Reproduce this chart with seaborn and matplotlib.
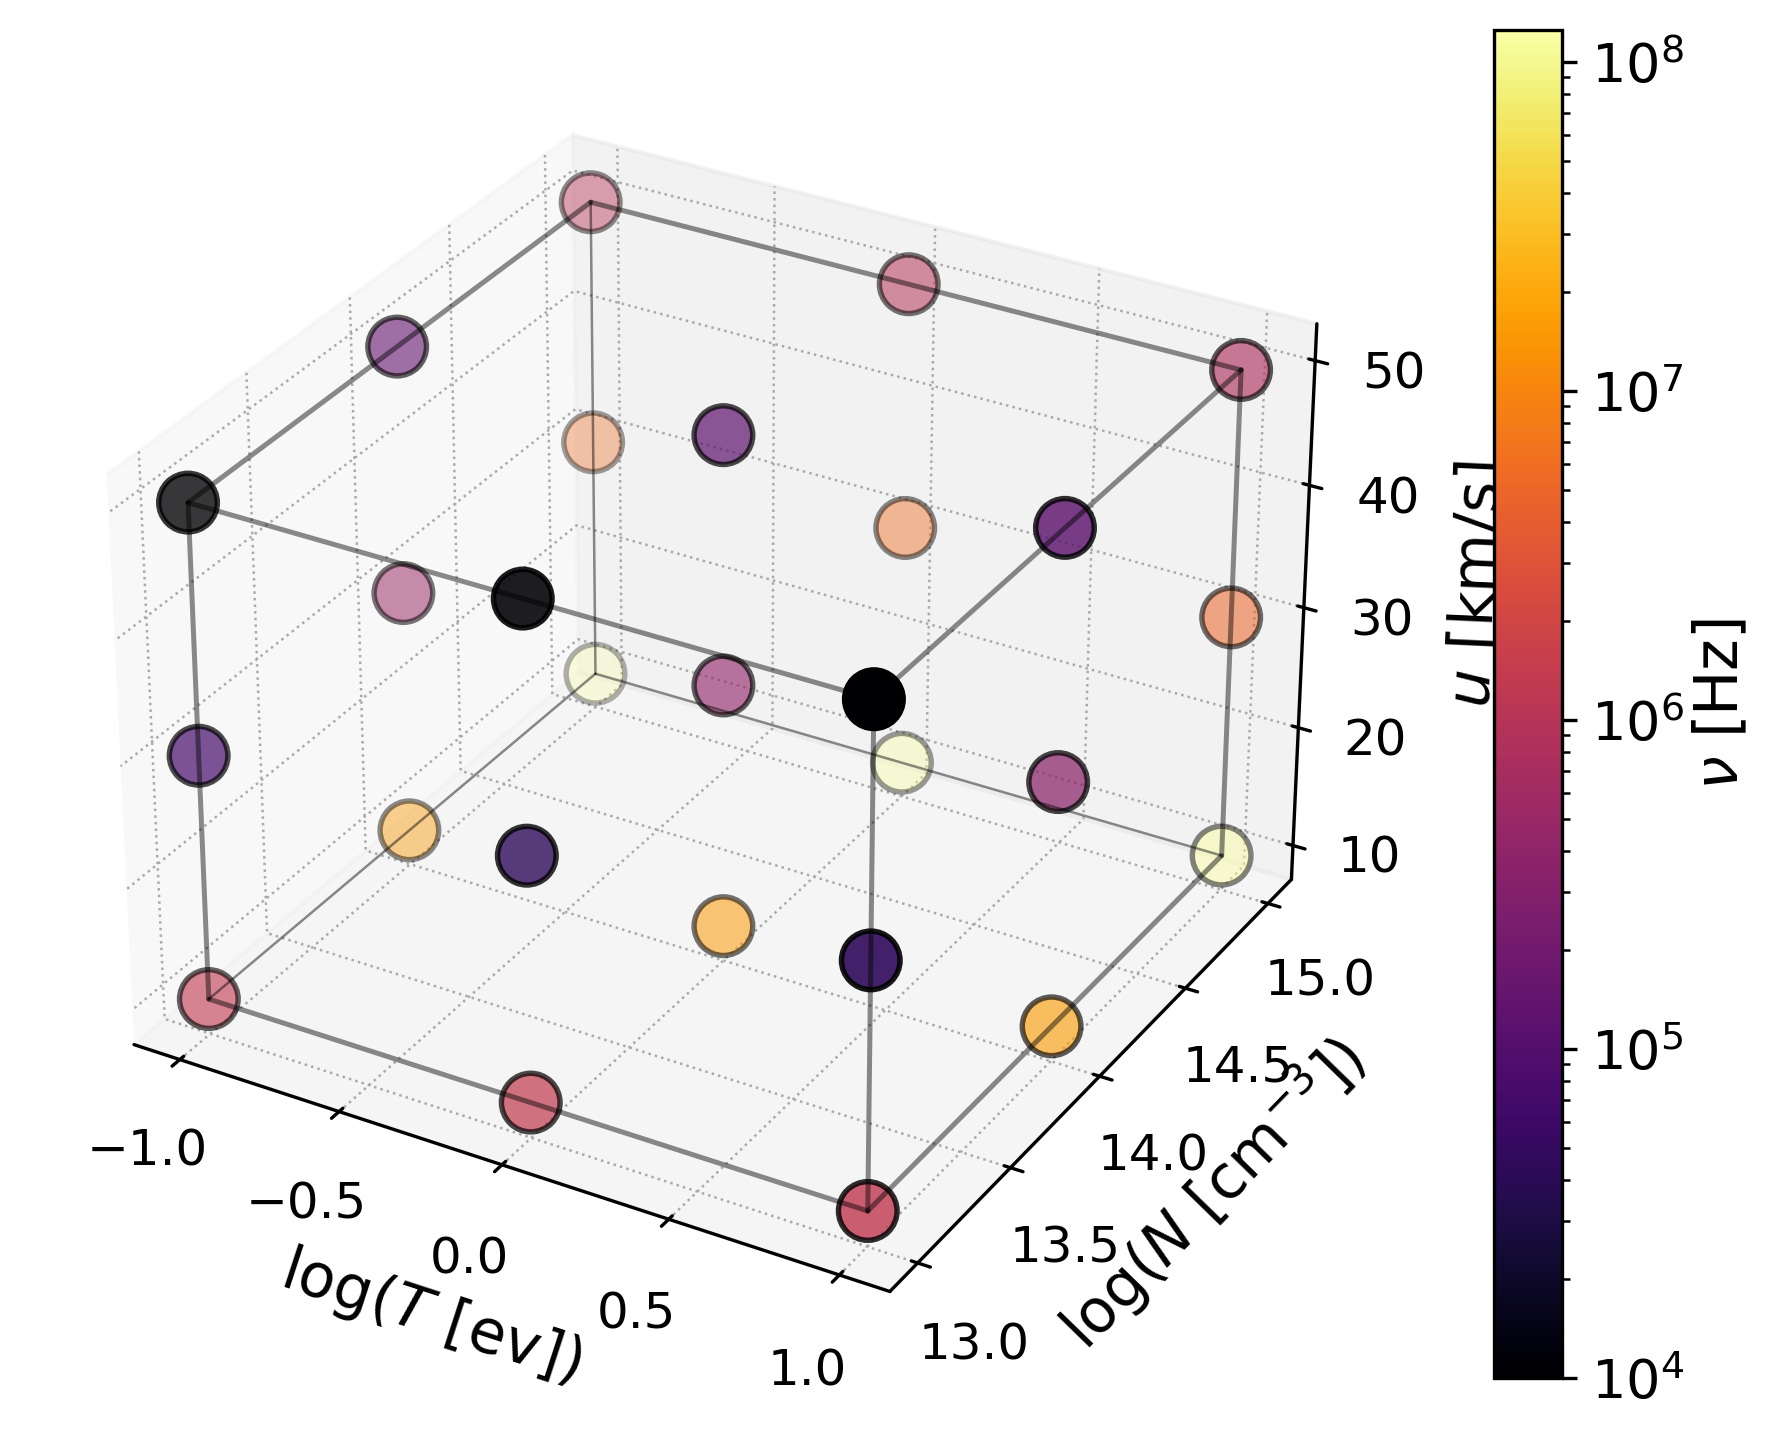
import numpy as np
import pandas as pd
import seaborn as sns
import matplotlib.pyplot as plt
from matplotlib.colors import LogNorm

log_T = [-1.0, 0.0, 1.0]
log_N = [13.0, 14.0, 15.0]
u_kms = [10, 30, 50]

# nu[T index][N index][u index]
nu_T_low = [[1.3e6, 7.0e4, 1.0e4], [1.5e7, 5.0e5, 1.5e5], [1.2e8, 6.0e6, 1.0e6]]
nu_T_mid = [[1.3e6, 4.5e4, 1.1e4], [1.5e7, 4.0e5, 1.3e5], [1.2e8, 6.0e6, 1.0e6]]
nu_T_high = [[1.3e6, 4.5e4, 1.0e4], [1.6e7, 3.5e5, 1.2e5], [1.2e8, 5.0e6, 8.0e5]]

nu_min = 1e4
nu_max = 1.25e8

sns.set_style("ticks", {"text.color": "k", "axes.labelcolor": "k", "xtick.color": "k",
                        "ytick.color": "k", "axes.edgecolor": "k"})
plt.rcParams["font.family"] = "DejaVu Sans"
plt.rcParams["grid.linestyle"] = ":"
plt.rcParams["grid.linewidth"] = 0.6
plt.rcParams["grid.color"] = "#aaaaaa"
plt.rcParams["axes.linewidth"] = 0.8
plt.rcParams["ytick.major.size"] = 3.5
plt.rcParams["ytick.minor.size"] = 2

rows = []
for i, nu_T in enumerate([nu_T_low, nu_T_mid, nu_T_high]):
    for j in range(3):
        for k in range(3):
            rows.append((log_T[i], log_N[j], u_kms[k], nu_T[j][k]))
df = pd.DataFrame(rows, columns=["T", "N", "u", "nu"])

fig = plt.figure(figsize=(5.94, 4.797), dpi=300)
ax = fig.add_axes([-0.0095, 0.0435, 0.8105, 0.935], projection="3d")

cmap = sns.color_palette("inferno", as_cmap=True)
sc = ax.scatter(df["T"], df["N"], df["u"], c=df["nu"], cmap=cmap,
                norm=LogNorm(vmin=nu_min, vmax=nu_max), s=198,
                edgecolors="k", linewidths=1.3)

# cube edges, the three at the far corner are thinner
t0, t1 = log_T[0], log_T[2]
n0, n1 = log_N[0], log_N[2]
u0, u1 = u_kms[0], u_kms[2]
edges = [
    ([t0, t1], [n0, n0], [u0, u0]), ([t0, t1], [n0, n0], [u1, u1]),
    ([t0, t1], [n1, n1], [u1, u1]), ([t1, t1], [n0, n1], [u0, u0]),
    ([t1, t1], [n0, n1], [u1, u1]), ([t0, t0], [n0, n1], [u1, u1]),
    ([t0, t0], [n0, n0], [u0, u1]), ([t1, t1], [n0, n0], [u0, u1]),
    ([t1, t1], [n1, n1], [u0, u1]),
]
back_edges = [
    ([t0, t1], [n1, n1], [u0, u0]), ([t0, t0], [n0, n1], [u0, u0]),
    ([t0, t0], [n1, n1], [u0, u1]),
]
for xs, ys, zs in edges:
    ax.plot(xs, ys, zs, color="k", alpha=0.45, lw=1.2)
for xs, ys, zs in back_edges:
    ax.plot(xs, ys, zs, color="k", alpha=0.45, lw=0.6)

ax.set_xticks([-1.0, -0.5, 0.0, 0.5, 1.0])
ax.set_yticks([13.0, 13.5, 14.0, 14.5, 15.0])
ax.set_zticks([10, 20, 30, 40, 50])
ax.tick_params(labelsize=12, pad=4)
ax.tick_params(axis="z", pad=3.5)
ax.set_xlabel(r"log($T$ [ev])", fontsize=14.5, labelpad=5)
ax.set_ylabel(r"log($N$ [cm$^{-3}$])", fontsize=14.5, labelpad=4)
ax.set_zlabel(r"$u$ [km/s]", fontsize=14.5, labelpad=5)

cax = fig.add_axes([0.8385, 0.0425, 0.038, 0.9365])
cbar = fig.colorbar(sc, cax=cax)
cbar.solids.set_alpha(1)
cbar.ax.tick_params(labelsize=13, which="both", direction="out")
cbar.set_label(r"$\nu$ [Hz]", fontsize=14.5, labelpad=2)

fig.savefig("out.png", dpi=300)
